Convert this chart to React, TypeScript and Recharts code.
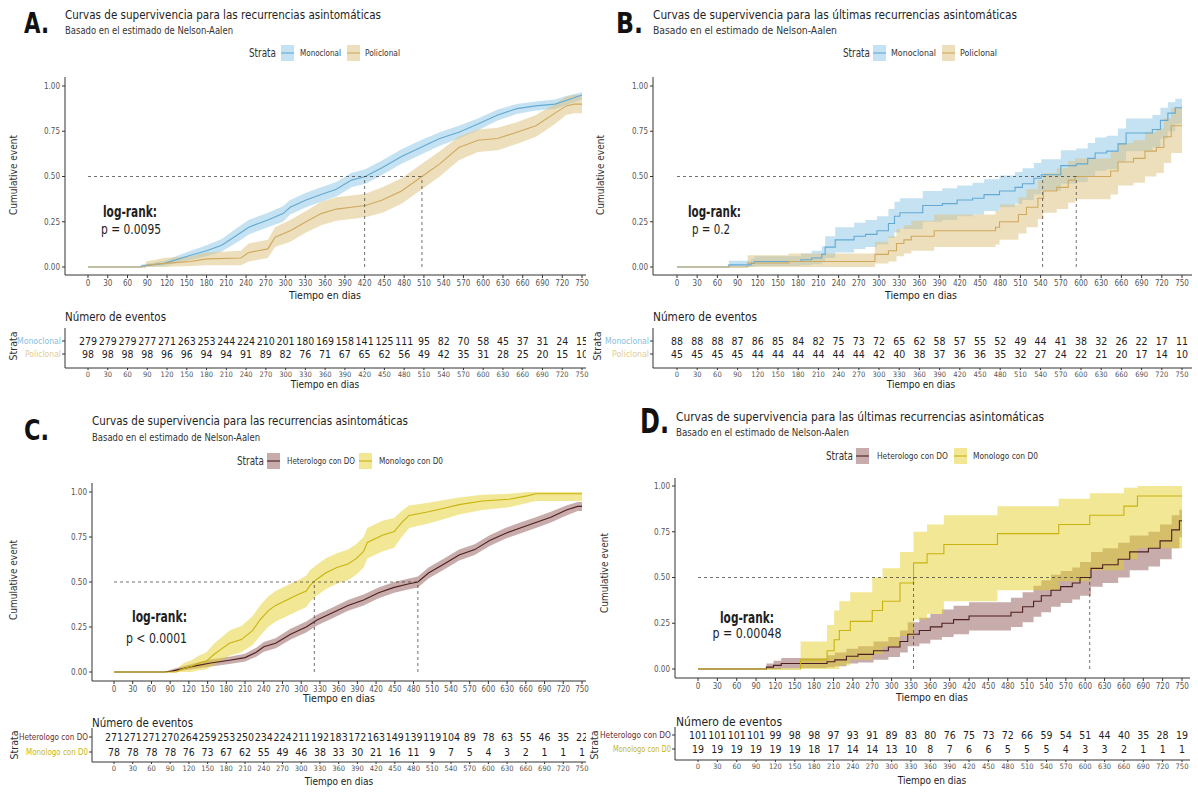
import React from "react";
import { ComposedChart, Area, Line, XAxis, YAxis, ReferenceLine, Scatter } from "recharts";

const FONT = "'Liberation Sans Narrow', 'Arial Narrow', 'DejaVu Sans Condensed', 'Liberation Sans', sans-serif";

const DAYS = [0, 30, 60, 90, 120, 150, 180, 210, 240, 270, 300, 330, 360, 390, 420, 450, 480, 510, 540, 570, 600, 630, 660, 690, 720, 750];
const Y_TICKS = [0, 0.25, 0.5, 0.75, 1];

type Pt = [number, number, number, number];

// [dia, estimado, inferior, superior]
const A_MONO: Pt[] = [
  [0, 0, 0, 0], [80, 0, 0, 0], [81, 0.005, 0, 0.012], [116, 0.02, 0.005, 0.035], [156, 0.065, 0.04, 0.09],
  [180, 0.09, 0.06, 0.12], [203, 0.12, 0.085, 0.155], [226, 0.175, 0.135, 0.215], [244, 0.22, 0.18, 0.26],
  [273, 0.26, 0.22, 0.3], [296, 0.295, 0.25, 0.335], [307, 0.33, 0.29, 0.37], [331, 0.37, 0.33, 0.41],
  [354, 0.4, 0.36, 0.44], [377, 0.43, 0.39, 0.47], [400, 0.48, 0.44, 0.52], [421, 0.5, 0.46, 0.54],
  [447, 0.55, 0.51, 0.59], [476, 0.61, 0.57, 0.65], [505, 0.66, 0.62, 0.7], [534, 0.71, 0.67, 0.745],
  [563, 0.745, 0.71, 0.78], [592, 0.79, 0.755, 0.82], [622, 0.84, 0.81, 0.87], [651, 0.875, 0.845, 0.9],
  [680, 0.89, 0.865, 0.915], [709, 0.9, 0.875, 0.925], [726, 0.92, 0.895, 0.945], [750, 0.95, 0.925, 0.965],
];
const A_POLI: Pt[] = [
  [0, 0, 0, 0], [87, 0, 0, 0], [88, 0.01, 0, 0.03], [116, 0.02, 0, 0.05], [156, 0.03, 0.005, 0.06],
  [180, 0.045, 0.01, 0.08], [232, 0.05, 0.01, 0.09], [244, 0.08, 0.03, 0.13], [273, 0.1, 0.05, 0.15],
  [284, 0.165, 0.11, 0.22], [307, 0.2, 0.14, 0.26], [331, 0.25, 0.19, 0.31], [354, 0.295, 0.23, 0.36],
  [377, 0.32, 0.255, 0.385], [400, 0.33, 0.265, 0.395], [421, 0.34, 0.275, 0.405], [447, 0.37, 0.3, 0.44],
  [476, 0.42, 0.35, 0.49], [507, 0.5, 0.43, 0.57], [534, 0.57, 0.5, 0.64], [563, 0.66, 0.59, 0.72],
  [592, 0.7, 0.635, 0.76], [622, 0.71, 0.645, 0.77], [651, 0.745, 0.68, 0.8], [680, 0.78, 0.72, 0.84],
  [709, 0.85, 0.79, 0.9], [726, 0.89, 0.84, 0.94], [738, 0.9, 0.85, 0.95], [750, 0.9, 0.85, 0.95],
];
const B_MONO: Pt[] = [
  [0, 0, 0, 0], [76, 0, 0, 0], [77, 0.012, 0, 0.035], [110, 0.02, 0, 0.045], [115, 0.03, 0.005, 0.06],
  [184, 0.04, 0.01, 0.075], [200, 0.05, 0.015, 0.09], [215, 0.07, 0.025, 0.115], [220, 0.11, 0.05, 0.17],
  [235, 0.15, 0.08, 0.22], [263, 0.17, 0.1, 0.245], [280, 0.18, 0.11, 0.26], [297, 0.2, 0.125, 0.28],
  [314, 0.24, 0.16, 0.32], [323, 0.28, 0.19, 0.36], [331, 0.3, 0.21, 0.38], [365, 0.34, 0.25, 0.42],
  [394, 0.35, 0.26, 0.435], [416, 0.37, 0.28, 0.45], [439, 0.38, 0.29, 0.465], [456, 0.4, 0.31, 0.485],
  [479, 0.42, 0.33, 0.505], [502, 0.44, 0.35, 0.525], [513, 0.46, 0.37, 0.545], [530, 0.49, 0.4, 0.575],
  [541, 0.51, 0.42, 0.595], [570, 0.56, 0.46, 0.645], [593, 0.57, 0.47, 0.655], [610, 0.6, 0.5, 0.685],
  [621, 0.63, 0.53, 0.715], [638, 0.64, 0.54, 0.725], [655, 0.68, 0.58, 0.765], [667, 0.74, 0.64, 0.82],
  [706, 0.76, 0.66, 0.84], [718, 0.81, 0.71, 0.88], [729, 0.85, 0.75, 0.91], [740, 0.88, 0.79, 0.93],
  [750, 0.88, 0.79, 0.93],
];
const B_POLI: Pt[] = [
  [0, 0, 0, 0], [104, 0, 0, 0], [105, 0.022, 0, 0.065], [166, 0.03, 0, 0.075], [294, 0.07, 0.02, 0.14],
  [314, 0.09, 0.03, 0.17], [326, 0.13, 0.06, 0.21], [337, 0.15, 0.075, 0.23], [348, 0.17, 0.09, 0.255],
  [382, 0.2, 0.11, 0.29], [473, 0.22, 0.125, 0.31], [479, 0.25, 0.15, 0.345], [507, 0.29, 0.185, 0.385],
  [519, 0.33, 0.22, 0.43], [536, 0.38, 0.265, 0.48], [544, 0.42, 0.3, 0.52], [564, 0.44, 0.32, 0.545],
  [581, 0.48, 0.355, 0.585], [591, 0.5, 0.375, 0.6], [644, 0.53, 0.4, 0.635], [655, 0.58, 0.45, 0.685],
  [678, 0.6, 0.465, 0.7], [695, 0.64, 0.5, 0.745], [712, 0.66, 0.52, 0.765], [723, 0.72, 0.575, 0.82],
  [734, 0.78, 0.63, 0.88], [750, 0.78, 0.63, 0.88],
];
const C_HET: Pt[] = [
  [0, 0, 0, 0], [81, 0, 0, 0], [93, 0.005, 0, 0.015], [124, 0.03, 0.015, 0.045], [155, 0.05, 0.03, 0.07],
  [185, 0.065, 0.045, 0.085], [210, 0.08, 0.058, 0.102], [228, 0.11, 0.085, 0.135], [240, 0.14, 0.113, 0.167],
  [259, 0.16, 0.132, 0.188], [283, 0.21, 0.18, 0.24], [308, 0.25, 0.22, 0.28], [326, 0.29, 0.26, 0.32],
  [351, 0.33, 0.3, 0.36], [375, 0.37, 0.34, 0.4], [400, 0.4, 0.37, 0.43], [424, 0.44, 0.41, 0.47],
  [449, 0.47, 0.44, 0.5], [473, 0.49, 0.46, 0.52], [487, 0.5, 0.47, 0.53], [504, 0.55, 0.52, 0.58],
  [529, 0.6, 0.57, 0.63], [553, 0.65, 0.62, 0.68], [578, 0.68, 0.65, 0.71], [602, 0.73, 0.7, 0.76],
  [627, 0.77, 0.74, 0.8], [651, 0.8, 0.77, 0.83], [676, 0.83, 0.8, 0.86], [700, 0.86, 0.83, 0.89],
  [725, 0.9, 0.87, 0.925], [743, 0.92, 0.895, 0.945], [750, 0.92, 0.895, 0.945],
];
const C_MON: Pt[] = [
  [0, 0, 0, 0], [100, 0, 0, 0], [105, 0.01, 0, 0.03], [112, 0.02, 0, 0.05], [124, 0.03, 0, 0.065],
  [136, 0.05, 0.01, 0.09], [148, 0.06, 0.015, 0.11], [161, 0.1, 0.04, 0.16], [173, 0.13, 0.065, 0.195],
  [185, 0.16, 0.09, 0.23], [204, 0.18, 0.11, 0.255], [222, 0.23, 0.15, 0.31], [234, 0.29, 0.2, 0.37],
  [247, 0.34, 0.25, 0.42], [259, 0.37, 0.28, 0.45], [277, 0.4, 0.31, 0.48], [295, 0.43, 0.34, 0.51],
  [308, 0.45, 0.36, 0.535], [314, 0.48, 0.39, 0.565], [323, 0.51, 0.42, 0.59], [339, 0.55, 0.46, 0.63],
  [357, 0.58, 0.49, 0.66], [375, 0.6, 0.51, 0.68], [388, 0.63, 0.54, 0.71], [400, 0.67, 0.58, 0.75],
  [406, 0.72, 0.63, 0.8], [430, 0.76, 0.67, 0.84], [449, 0.78, 0.69, 0.855], [461, 0.83, 0.75, 0.895],
  [473, 0.87, 0.8, 0.925], [504, 0.89, 0.825, 0.94], [529, 0.91, 0.85, 0.955], [553, 0.93, 0.875, 0.97],
  [590, 0.95, 0.9, 0.985], [633, 0.96, 0.915, 0.99], [664, 0.98, 0.94, 1], [676, 0.99, 0.95, 1],
  [750, 0.99, 0.95, 1],
];
const D_HET: Pt[] = [
  [0, 0, 0, 0], [106, 0.01, 0, 0.03], [117, 0.02, 0, 0.045], [129, 0.03, 0.005, 0.06], [200, 0.04, 0.01, 0.075],
  [212, 0.05, 0.015, 0.09], [230, 0.07, 0.03, 0.11], [248, 0.08, 0.035, 0.125], [272, 0.1, 0.05, 0.15],
  [295, 0.12, 0.065, 0.175], [313, 0.15, 0.09, 0.21], [325, 0.19, 0.125, 0.255], [343, 0.21, 0.14, 0.28],
  [360, 0.23, 0.16, 0.3], [378, 0.25, 0.175, 0.325], [396, 0.27, 0.19, 0.345], [420, 0.29, 0.21, 0.365],
  [485, 0.31, 0.23, 0.39], [503, 0.34, 0.255, 0.42], [520, 0.37, 0.285, 0.455], [532, 0.4, 0.31, 0.485],
  [547, 0.43, 0.34, 0.515], [562, 0.45, 0.36, 0.535], [580, 0.47, 0.38, 0.555], [592, 0.5, 0.4, 0.585],
  [609, 0.55, 0.45, 0.64], [627, 0.57, 0.47, 0.66], [651, 0.6, 0.5, 0.69], [669, 0.64, 0.54, 0.73],
  [698, 0.66, 0.56, 0.75], [716, 0.7, 0.6, 0.79], [734, 0.76, 0.66, 0.84], [746, 0.81, 0.72, 0.87],
  [750, 0.81, 0.74, 0.87],
];
const D_MON: Pt[] = [
  [0, 0, 0, 0], [159, 0.05, 0, 0.15], [200, 0.1, 0, 0.24], [211, 0.16, 0, 0.32], [219, 0.21, 0.02, 0.37],
  [236, 0.26, 0.05, 0.42], [270, 0.32, 0.08, 0.5], [286, 0.37, 0.12, 0.55], [313, 0.47, 0.18, 0.64],
  [334, 0.58, 0.27, 0.75], [355, 0.63, 0.3, 0.79], [381, 0.68, 0.37, 0.84], [464, 0.74, 0.43, 0.89],
  [559, 0.79, 0.48, 0.93], [607, 0.84, 0.54, 0.96], [660, 0.89, 0.6, 0.99], [681, 0.945, 0.66, 1],
  [750, 0.945, 0.66, 1],
];

// numero en riesgo en cada tick
const A_MONO_N = [279, 279, 279, 277, 271, 263, 253, 244, 224, 210, 201, 180, 169, 158, 141, 125, 111, 95, 82, 70, 58, 45, 37, 31, 24, 15];
const A_POLI_N = [98, 98, 98, 98, 96, 96, 94, 94, 91, 89, 82, 76, 71, 67, 65, 62, 56, 49, 42, 35, 31, 28, 25, 20, 15, 10];
const B_MONO_N = [88, 88, 88, 87, 86, 85, 84, 82, 75, 73, 72, 65, 62, 58, 57, 55, 52, 49, 44, 41, 38, 32, 26, 22, 17, 11];
const B_POLI_N = [45, 45, 45, 45, 44, 44, 44, 44, 44, 44, 42, 40, 38, 37, 36, 36, 35, 32, 27, 24, 22, 21, 20, 17, 14, 10];
const C_HET_N = [271, 271, 271, 270, 264, 259, 253, 250, 234, 224, 211, 192, 183, 172, 163, 149, 139, 119, 104, 89, 78, 63, 55, 46, 35, 22];
const C_MON_N = [78, 78, 78, 78, 76, 73, 67, 62, 55, 49, 46, 38, 33, 30, 21, 16, 11, 9, 7, 5, 4, 3, 2, 1, 1, 1];
const D_HET_N = [101, 101, 101, 101, 99, 98, 98, 97, 93, 91, 89, 83, 80, 76, 75, 73, 72, 66, 59, 54, 51, 44, 40, 35, 28, 19];
const D_MON_N = [19, 19, 19, 19, 19, 19, 18, 17, 14, 14, 13, 10, 8, 7, 6, 6, 5, 5, 5, 4, 3, 3, 2, 1, 1, 1];

// medianas (dias)
const A_MED = [420, 507];
const B_MED = [543, 593];
const C_MED = [321, 487];
const D_MED = [334, 607];

const BLUE = "#63a9d3";
const BLUE_BAND = "#8cc6e6";
const BLUE_LAB = "#86c0e0";
const TAN = "#cfa95e";
const TAN_BAND = "#dcc07a";
const TAN_LAB = "#e2cc96";
const BROWN = "#4e1f1f";
const BROWN_BAND = "#8f5a57";
const BROWN_LAB = "#6a2d2d";
const YELLOW = "#c9b30f";
const YELLOW_BAND = "#e3d02a";
const YELLOW_LAB = "#c9b80f";
const AXIS = "#333333";
const TICK = "#555555";
const INK = "#1e1e1e";

const TITLE_1 = "Curvas de supervivencia para las recurrencias asintomáticas";
const TITLE_2 = "Curvas de supervivencia para las últimas recurrencias asintomáticas";
const SUB = "Basado en el estimado de Nelson-Aalen";

type Strat = { name: string; pts: Pt[]; n: number[]; line: string; band: string; lab: string; labLen: number; sw: number; lx: number; tickLen: number };
type Panel = {
  letter: string; lx: number; ly: number; lsize: number; llen: number;
  title: string; tx: number; ty: number; tlen: number; sy: number; slen: number;
  legY: number; strataX: number;
  plot: { left: number; right: number; top: number; bottom: number; x0: number; x750: number; y0: number; y1: number };
  curve: "linear" | "stepAfter";
  med: number[];
  lr: { x: number; y: number; len: number; px: number; py: number; plen: number; anchor: "start" | "middle"; p: string };
  ylab: [number, number];
  xlab: [number, number];
  table: { top: number; bottom: number; row1: number; row2: number; head: [number, number, number]; xlab: [number, number]; strata: [number, number] };
  s: Strat[];
};

const PANELS: Panel[] = [
  {
    letter: "A.", lx: 24, ly: 33, lsize: 28, llen: 25,
    title: TITLE_1, tx: 65, ty: 19, tlen: 316, sy: 34, slen: 168,
    legY: 53, strataX: 249,
    plot: { left: 65, right: 586, top: 77, bottom: 275, x0: 88, x750: 582, y0: 267, y1: 86 },
    curve: "linear", med: A_MED,
    lr: { x: 103, y: 217, len: 54, px: 101, py: 234, plen: 60, anchor: "start", p: "p = 0.0095" },
    ylab: [17, 175], xlab: [325, 299],
    table: { top: 328, bottom: 368, row1: 341, row2: 354, head: [65, 321, 101], xlab: [325, 388], strata: [17, 346] },
    s: [
      { name: "Monoclonal", pts: A_MONO, n: A_MONO_N, line: BLUE, band: BLUE_BAND, lab: BLUE_LAB, labLen: 41, sw: 281, lx: 300, tickLen: 44 },
      { name: "Policlonal", pts: A_POLI, n: A_POLI_N, line: TAN, band: TAN_BAND, lab: TAN_LAB, labLen: 35, sw: 347, lx: 365, tickLen: 36 },
    ],
  },
  {
    letter: "B.", lx: 616, ly: 33, lsize: 28, llen: 27,
    title: TITLE_2, tx: 653, ty: 19, tlen: 364, sy: 34, slen: 184,
    legY: 53, strataX: 843,
    plot: { left: 653, right: 1192, top: 77, bottom: 275, x0: 677, x750: 1182, y0: 267, y1: 86 },
    curve: "stepAfter", med: B_MED,
    lr: { x: 688, y: 217, len: 53, px: 692, py: 234, plen: 38, anchor: "start", p: "p = 0.2" },
    ylab: [604, 175], xlab: [921, 299],
    table: { top: 328, bottom: 368, row1: 341, row2: 354, head: [653, 321, 104], xlab: [921, 388], strata: [601, 346] },
    s: [
      { name: "Monoclonal", pts: B_MONO, n: B_MONO_N, line: BLUE, band: BLUE_BAND, lab: BLUE_LAB, labLen: 45, sw: 873, lx: 891, tickLen: 44 },
      { name: "Policlonal", pts: B_POLI, n: B_POLI_N, line: TAN, band: TAN_BAND, lab: TAN_LAB, labLen: 37, sw: 942, lx: 960, tickLen: 37 },
    ],
  },
  {
    letter: "C.", lx: 24, ly: 440, lsize: 28, llen: 25,
    title: TITLE_1, tx: 92, ty: 425, tlen: 316, sy: 441, slen: 168,
    legY: 461, strataX: 237,
    plot: { left: 92, right: 586, top: 483, bottom: 681, x0: 114, x750: 582, y0: 672, y1: 492 },
    curve: "linear", med: C_MED,
    lr: { x: 132, y: 622, len: 55, px: 126, py: 643, plen: 61, anchor: "start", p: "p < 0.0001" },
    ylab: [17, 580], xlab: [339, 702],
    table: { top: 728, bottom: 762, row1: 737, row2: 752, head: [92, 727, 101], xlab: [339, 785], strata: [18, 745] },
    s: [
      { name: "Heterologo con DO", pts: C_HET, n: C_HET_N, line: BROWN, band: BROWN_BAND, lab: BROWN_LAB, labLen: 68, sw: 267, lx: 287, tickLen: 69 },
      { name: "Monologo con D0", pts: C_MON, n: C_MON_N, line: YELLOW, band: YELLOW_BAND, lab: YELLOW_LAB, labLen: 64, sw: 359, lx: 379, tickLen: 62 },
    ],
  },
  {
    letter: "D.", lx: 640, ly: 433, lsize: 34, llen: 29,
    title: TITLE_2, tx: 676, ty: 421, tlen: 368, sy: 436, slen: 173,
    legY: 456, strataX: 826,
    plot: { left: 675, right: 1190, top: 478, bottom: 678, x0: 698, x750: 1182, y0: 669, y1: 486 },
    curve: "stepAfter", med: D_MED,
    lr: { x: 747, y: 623, len: 54, px: 747, py: 638, plen: 69, anchor: "middle", p: "p = 0.00048" },
    ylab: [608, 573], xlab: [932, 701],
    table: { top: 727, bottom: 760, row1: 735, row2: 749, head: [676, 726, 106], xlab: [932, 784], strata: [598, 745] },
    s: [
      { name: "Heterologo con DO", pts: D_HET, n: D_HET_N, line: BROWN, band: BROWN_BAND, lab: BROWN_LAB, labLen: 71, sw: 856, lx: 877, tickLen: 71 },
      { name: "Monologo con D0", pts: D_MON, n: D_MON_N, line: YELLOW, band: YELLOW_BAND, lab: YELLOW_LAB, labLen: 65, sw: 954, lx: 973, tickLen: 58 },
    ],
  },
];

const toRows = (pts: Pt[]) => pts.map(([t, v, lo, hi]) => ({ t, v, band: [lo, hi] }));

const xDomain = (p: Panel["plot"]): [number, number] => {
  const k = (p.x750 - p.x0) / 750;
  return [-(p.x0 - p.left) / k, 750 + (p.right - p.x750) / k];
};

const YW = 40;
const XH = 20;
const TW = 80;
const TH = 14;
const RM = 6;

function SurvPlot({ cfg }: { cfg: Panel }) {
  const g = cfg.plot;
  const ky = g.y0 - g.y1;
  const yDom: [number, number] = [-(g.bottom - g.y0) / ky, 1 + (g.y1 - g.top) / ky];
  const medMax = Math.max(...cfg.med);
  const tick = { fontSize: 8, fill: TICK, fontFamily: FONT };
  return (
    <div style={{ position: "absolute", left: g.left - YW, top: g.top }}>
      <ComposedChart width={g.right - g.left + YW + RM} height={g.bottom - g.top + XH} margin={{ top: 0, right: RM, bottom: 0, left: 0 }}>
        <XAxis type="number" dataKey="t" domain={xDomain(g)} allowDataOverflow ticks={DAYS} interval={0}
          height={XH} tickSize={3} tickMargin={2} stroke={AXIS} tick={tick} />
        <YAxis type="number" domain={yDom} allowDataOverflow ticks={Y_TICKS} interval={0} width={YW}
          tickSize={3} tickMargin={2} stroke={AXIS} tick={tick} tickFormatter={(v: number) => v.toFixed(2)} />
        {cfg.s.map((s) => (
          <Area key={"b" + s.name} data={toRows(s.pts)} dataKey="band" type={cfg.curve} stroke="none"
            fill={s.band} fillOpacity={0.5} isAnimationActive={false} activeDot={false} />
        ))}
        {cfg.s.map((s) => (
          <Line key={"l" + s.name} data={toRows(s.pts)} dataKey="v" type={cfg.curve} stroke={s.line}
            strokeWidth={1.1} dot={false} activeDot={false} isAnimationActive={false} />
        ))}
        <ReferenceLine segment={[{ x: 0, y: 0.5 }, { x: medMax, y: 0.5 }]} stroke={AXIS} strokeWidth={0.7} strokeDasharray="3 3" />
        {cfg.med.map((m) => (
          <ReferenceLine key={m} segment={[{ x: m, y: 0 }, { x: m, y: 0.5 }]} stroke={AXIS} strokeWidth={0.7} strokeDasharray="3 3" />
        ))}
      </ComposedChart>
    </div>
  );
}

function RiskTable({ cfg }: { cfg: Panel }) {
  const g = cfg.plot;
  const t = cfg.table;
  const ky = t.row2 - t.row1;
  const yDom: [number, number] = [1 - (t.bottom - t.row2) / ky, 2 + (t.row1 - t.top) / ky];
  const rows = cfg.s.map((s, i) => DAYS.map((d, j) => ({ t: d, y: 2 - i, n: s.n[j] })));
  const numShape = (p: any) => (
    <text x={p.cx} y={p.cy} dy={3.8} textAnchor="middle" fontSize={10.5} fontFamily={FONT} fill={INK}>
      {p.payload.n}
    </text>
  );
  const strataTick = (p: any) => {
    const s = cfg.s[p.payload.value === 2 ? 0 : 1];
    return (
      <text x={p.x} y={p.y} dy={3} textAnchor="end" fontSize={9} fontFamily={FONT} fill={s.lab}
        textLength={s.tickLen} lengthAdjust="spacingAndGlyphs">
        {s.name}
      </text>
    );
  };
  return (
    <div style={{ position: "absolute", left: g.left - TW, top: t.top }}>
      <ComposedChart width={g.right - g.left + TW + RM} height={t.bottom - t.top + TH} margin={{ top: 0, right: RM, bottom: 0, left: 0 }}>
        <XAxis type="number" dataKey="t" domain={xDomain(g)} allowDataOverflow ticks={DAYS} interval={0}
          height={TH} tickSize={2} tickMargin={2} stroke={AXIS} tick={{ fontSize: 7.5, fill: TICK, fontFamily: FONT }} />
        <YAxis type="number" dataKey="y" domain={yDom} allowDataOverflow ticks={[1, 2]} interval={0} width={TW}
          tickSize={3} tickMargin={1} stroke={AXIS} tick={strataTick} />
        {rows.map((r, i) => (
          <Scatter key={i} data={r} dataKey="y" shape={numShape} isAnimationActive={false} />
        ))}
      </ComposedChart>
    </div>
  );
}

function Txt(props: { x: number; y: number; size: number; children: React.ReactNode; len?: number; anchor?: "start" | "middle" | "end"; weight?: number; fill?: string; rotate?: boolean }) {
  const { x, y, size, children, len, anchor = "start", weight = 400, fill = INK, rotate } = props;
  return (
    <text x={x} y={y} fontSize={size} fontFamily={FONT} fontWeight={weight} fill={fill} textAnchor={anchor}
      textLength={len} lengthAdjust={len ? "spacingAndGlyphs" : undefined}
      transform={rotate ? `rotate(-90 ${x} ${y})` : undefined}>
      {children}
    </text>
  );
}

function Overlay() {
  return (
    <svg width={1198} height={810} style={{ position: "absolute", left: 0, top: 0, pointerEvents: "none" }}>
      {PANELS.map((p) => (
        <g key={p.letter}>
          <Txt x={p.lx} y={p.ly} size={p.lsize} weight={700} fill="#111" len={p.llen}>{p.letter}</Txt>
          <Txt x={p.tx} y={p.ty} size={13} len={p.tlen}>{p.title}</Txt>
          <Txt x={p.tx} y={p.sy} size={10} len={p.slen} fill="#333">{SUB}</Txt>
          <Txt x={p.strataX} y={p.legY + 4} size={11.5} len={27} fill="#333">Strata</Txt>
          {p.s.map((s) => (
            <g key={s.name}>
              <rect x={s.sw} y={p.legY - 8} width={13} height={16} fill={s.band} fillOpacity={0.5} />
              <line x1={s.sw} x2={s.sw + 13} y1={p.legY} y2={p.legY} stroke={s.line} strokeWidth={1.1} />
              <Txt x={s.lx} y={p.legY + 3} size={9} len={s.labLen} fill="#333">{s.name}</Txt>
            </g>
          ))}
          <Txt x={p.ylab[0]} y={p.ylab[1]} size={10} anchor="middle" fill="#333" rotate>Cumulative event</Txt>
          <Txt x={p.xlab[0]} y={p.xlab[1]} size={10.5} anchor="middle" fill="#222">Tiempo en dias</Txt>
          <Txt x={p.lr.x} y={p.lr.y} size={15} weight={700} anchor={p.lr.anchor} len={p.lr.len}>log-rank:</Txt>
          <Txt x={p.lr.px} y={p.lr.py} size={14} anchor={p.lr.anchor} len={p.lr.plen}>{p.lr.p}</Txt>
          <Txt x={p.table.head[0]} y={p.table.head[1]} size={12.5} len={p.table.head[2]}>Número de eventos</Txt>
          <Txt x={p.table.xlab[0]} y={p.table.xlab[1]} size={10} anchor="middle" fill="#222">Tiempo en dias</Txt>
          <Txt x={p.table.strata[0]} y={p.table.strata[1]} size={10.5} anchor="middle" fill="#333" rotate>Strata</Txt>
        </g>
      ))}
    </svg>
  );
}

export default function App() {
  return (
    <div style={{ position: "absolute", left: 0, top: 0, width: 1198, height: 810, background: "#fff", overflow: "hidden" }}>
      {PANELS.map((p) => (
        <SurvPlot key={"p" + p.letter} cfg={p} />
      ))}
      {PANELS.map((p) => (
        <RiskTable key={"t" + p.letter} cfg={p} />
      ))}
      <Overlay />
    </div>
  );
}
